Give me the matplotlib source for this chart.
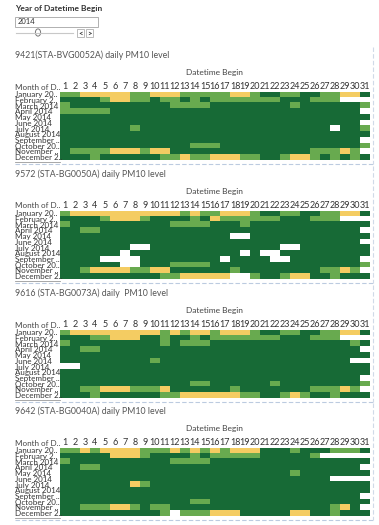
import numpy as np
import matplotlib.pyplot as plt
from matplotlib.colors import ListedColormap, BoundaryNorm
from matplotlib.patches import Rectangle, Circle
from matplotlib.lines import Line2D

plt.rcParams['font.family'] = ['Lato', 'DejaVu Sans']

W, H = 379, 525

year = "2014"
months = ["January 20..", "February 2..", "March 2014", "April 2014", "May 2014",
          "June 2014", "July 2014", "August 2014", "September ..", "October 20..",
          "November ..", "December 2.."]
days = [str(d) for d in range(1, 32)]

titles = ["9421(STA-BVG0052A) daily PM10 level",
          "9572 (STA-BG0050A) daily PM10 level",
          "9616 (STA-BG0073A) daily  PM10 level",
          "9642 (STA-BG0040A) daily PM10 level"]

# level per day: 0 = no data, 1 = low, 2 = moderate, 3 = high
# each row written as days 1-10 | 11-20 | 21-31
pm_9421 = ["2233333223 3322222332 11221122331",
           "1111233221 2212122222 22111222000",
           "2111111111 1222211111 11121111112",
           "2222211111 1111111111 11111111110",
           "1111111111 1111111111 11111111111",
           "1111111111 1111111111 11111111110",
           "1111111211 1111111111 11111110112",
           "1111111111 1111111111 11111111111",
           "1111111111 1111111111 11111111110",
           "1111111111 1112221111 11111111112",
           "1222233323 3111111111 11111222320",
           "1112111111 2232233322 11233212121"]

pm_9572 = ["2333333333 3323223332 11221122331",
           "1111233321 1112132222 22111222000",
           "2111111111 1222211121 11111111111",
           "1122111111 1111111111 11111111110",
           "1111111111 1111111001 11111111111",
           "1111111111 1111111111 11111111110",
           "1111111001 1111111111 11001111111",
           "1111110111 1111111101 00111111111",
           "1111000011 1111110111 10011111110",
           "1111110011 1222211111 11111111112",
           "1123333223 3111111211 11111122320",
           "1111111111 2233333002 11233112111"]

pm_9616 = ["2333333333 2323323332 11221122331",
           "1112233311 2112122222 22111222000",
           "2111111111 2122211111 11111111121",
           "1122111111 1111111111 11111111110",
           "1111111111 1111111111 11111111111",
           "1111111112 1111111111 11111111100",
           "0011111111 1111111111 11111111111",
           "1111111111 1111111111 11111111111",
           "1111111111 1111111111 11111111110",
           "1111111111 1112211111 12111111112",
           "1122333222 3111111211 11111222320",
           "1112111111 2233333322 11232112111"]

pm_9642 = ["2232333322 2323232333 11121112221",
           "1111133321 1112122222 11111200000",
           "2111111111 1222211111 11111111111",
           "1122111111 1111111111 11111111110",
           "1111111111 1111111111 11121111111",
           "1111111111 1111111111 11111110000",
           "1111111321 1111111111 11111111111",
           "1111111111 1111111111 11111111111",
           "1111111111 1111111111 11111111110",
           "1111111111 1112211111 11111111111",
           "1122233212 2111111111 11111112310",
           "1111111111 2022233311 11133112111"]

stations = [pm_9421, pm_9572, pm_9616, pm_9642]


def to_grid(rows):
    return np.array([[int(ch) for ch in r.replace(" ", "")] for r in rows])


def fx(x):
    return x / W


def fy(y):
    return 1 - y / H


cmap = ListedColormap(["white", "#176a36", "#68aa4f", "#f4cc62"])
norm = BoundaryNorm([-0.5, 0.5, 1.5, 2.5, 3.5], cmap.N)

fig = plt.figure(figsize=(W / 100, H / 100), dpi=100)
fig.patch.set_facecolor("white")

# year filter widget
fig.text(fx(15), fy(9), "Year of Datetime Begin", fontsize=6, fontweight="bold",
         color="#333333", va="center")
fig.add_artist(Rectangle((fx(15), fy(27)), fx(98) - fx(15), fy(17) - fy(27),
                         transform=fig.transFigure, fc="white", ec="#b0b0b0", lw=0.7))
fig.text(fx(18), fy(22), year, fontsize=5.5, color="#333333", va="center")
fig.add_artist(Line2D([fx(16), fx(73)], [fy(33), fy(33)], transform=fig.transFigure,
                      color="#c8c8c8", lw=0.8))
fig.add_artist(Circle((fx(38), fy(32.5)), 2.6 / W, transform=fig.transFigure,
                      fc="white", ec="#777777", lw=0.7))
for bx, sym in [(77, "<"), (86, ">")]:
    fig.add_artist(Rectangle((fx(bx), fy(37)), 7 / W, 8 / H, transform=fig.transFigure,
                             fc="white", ec="#b0b0b0", lw=0.6))
    fig.text(fx(bx + 3.5), fy(33), sym, fontsize=5.5, fontweight="bold",
             color="#333333", ha="center", va="center")

tops = [92, 211, 330, 448]
hm_h = 68.5
for rows, title, top in zip(stations, titles, tops):
    grid = to_grid(rows)
    ax = fig.add_axes([fx(60), fy(top + hm_h), fx(370) - fx(60), hm_h / H])
    ax.imshow(grid, cmap=cmap, norm=norm, aspect="auto", interpolation="nearest")
    ax.set_xticks(range(31))
    ax.set_xticklabels(days, fontsize=6.5, color="#333333")
    ax.xaxis.tick_top()
    ax.tick_params(axis="x", length=0, pad=1)
    ax.set_yticks([])
    for s in ax.spines.values():
        s.set_visible(False)

    fig.text(fx(15), fy(top - 37), title, fontsize=6.3, color="#555555", va="center")
    fig.text(fx(215), fy(top - 19), "Datetime Begin", fontsize=6, color="#444444",
             ha="center", va="center")
    fig.text(fx(15), fy(top - 5), "Month of D..", fontsize=5.8, color="#444444",
             va="center")
    for i, m in enumerate(months):
        fig.text(fx(15), fy(top + (i + 0.5) * hm_h / 12), m, fontsize=5.8,
                 color="#333333", va="center", zorder=5)

    fig.add_artist(Line2D([fx(15), fx(60)], [fy(top + hm_h + 1), fy(top + hm_h + 1)],
                          transform=fig.transFigure, color="#999999", lw=0.6))
    fig.add_artist(Line2D([fx(15), fx(373)], [fy(top + hm_h + 3), fy(top + hm_h + 3)],
                          transform=fig.transFigure, color="#bccbe0", lw=0.8,
                          ls=(0, (4, 2))))
    fig.add_artist(Line2D([fx(373), fx(373)], [fy(top - 45), fy(top + hm_h + 3)],
                          transform=fig.transFigure, color="#d0dae8", lw=0.8,
                          ls=(0, (4, 2))))

fig.savefig("out.png", dpi=100, facecolor="white")
